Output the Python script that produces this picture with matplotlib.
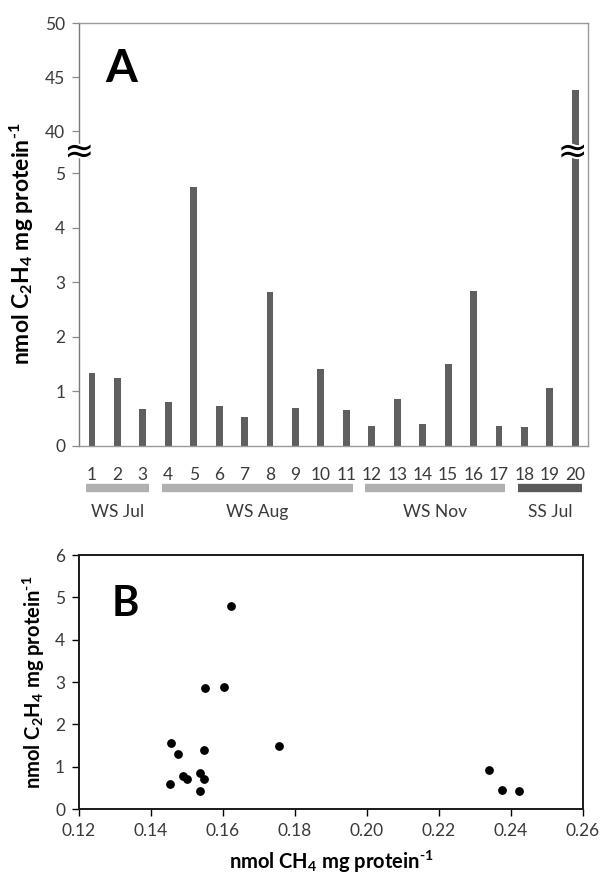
"""Nitrogenase activity per sample (A) and its relation to methane uptake (B)."""

import matplotlib

matplotlib.use("Agg")
import matplotlib.patheffects as pe
import matplotlib.pyplot as plt
import numpy as np

plt.rcParams["font.family"] = ["Lato", "DejaVu Sans"]
plt.rcParams["mathtext.default"] = "regular"

SAMPLES = [str(i) for i in range(1, 21)]
C2H4 = [1.33, 1.25, 0.67, 0.80, 4.75, 0.74, 0.54, 2.82, 0.70, 1.42,
        0.66, 0.37, 0.87, 0.41, 1.50, 2.84, 0.36, 0.35, 1.06, 43.8]

GROUP_NAMES = ["WS Jul", "WS Aug", "WS Nov", "SS Jul"]
GROUP_FIRST = [1, 4, 12, 18]
GROUP_LAST = [3, 11, 17, 20]
GROUP_COLORS = ["#b1b1b3", "#b1b1b3", "#b1b1b3", "#5a5a5a"]

CH4_X = [0.1622, 0.1602, 0.1551, 0.1456, 0.1475, 0.1547, 0.1756, 0.1490,
         0.1499, 0.1535, 0.1547, 0.1452, 0.1535, 0.2340, 0.2375, 0.2423]
C2H4_Y = [4.80, 2.89, 2.86, 1.56, 1.29, 1.39, 1.48, 0.78,
          0.71, 0.85, 0.71, 0.58, 0.42, 0.92, 0.45, 0.42]

TICKS_A = [0, 1, 2, 3, 4, 5, 40, 45, 50]
TICKS_B_X = [0.12, 0.14, 0.16, 0.18, 0.20, 0.22, 0.24, 0.26]
TICKS_B_Y = [0, 1, 2, 3, 4, 5, 6]

YLABEL = "nmol C$_2$H$_4$ mg protein$^{\u2010 1}$"
XLABEL_B = "nmol CH$_4$ mg protein$^{\u2010 1}$"

BAR_COLOR = "#5f5f5f"
TEXT_COLOR = "#3a3a3a"
TICK_SIZE = 12.5

# broken y axis for panel A: 0-5 linear, squeezed gap 5-40, 40-50 compressed
GAP = 0.769
UPPER = 0.1986


def forward(v):
    v = np.asarray(v, dtype=float)
    return np.where(v <= 5, v, np.where(v < 40, 5 + (v - 5) * GAP / 35, 5 + GAP + (v - 40) * UPPER))


def inverse(u):
    u = np.asarray(u, dtype=float)
    return np.where(u <= 5, u, np.where(u < 5 + GAP, 5 + (u - 5) * 35 / GAP, 40 + (u - 5 - GAP) / UPPER))


def draw_bars(ax):
    x = np.arange(len(SAMPLES))
    ax.bar(x, C2H4, width=0.27, color=BAR_COLOR, zorder=2)
    ax.set_yscale("function", functions=(forward, inverse))
    ax.set_ylim(0, 50)
    ax.set_xlim(-0.5, len(SAMPLES) - 0.5)
    ax.set_yticks(TICKS_A)
    ax.set_yticklabels([str(t) for t in TICKS_A])
    ax.set_xticks(x)
    ax.set_xticklabels(SAMPLES)
    ax.tick_params(axis="x", length=0, pad=15, labelsize=TICK_SIZE, labelcolor=TEXT_COLOR)
    ax.tick_params(axis="y", direction="out", length=5, width=0.9, color="#888888",
                   labelsize=TICK_SIZE, labelcolor=TEXT_COLOR, pad=5)
    ax.yaxis.set_minor_locator(matplotlib.ticker.NullLocator())
    for side in ax.spines.values():
        side.set_color("#9a9a9a")
        side.set_linewidth(1.0)
    ax.spines["left"].set_color("#7a7a7a")
    ax.set_ylabel(YLABEL, fontsize=16.5, fontweight="bold")
    ax.yaxis.set_label_coords(-0.085, 0.478)
    ax.text(0.051, 0.94, "A", transform=ax.transAxes, fontsize=33, fontweight="bold",
            va="top", ha="left")

    # break marks on the axis and on the tall bar
    mid = 22.5
    halo = [pe.withStroke(linewidth=3, foreground="white")]
    ax.text(-0.5, mid, "\u2248", fontsize=26, family="DejaVu Sans", ha="center", va="center",
            clip_on=False, path_effects=halo, zorder=5)
    ax.text(x[-1] - 0.1, mid, "\u2248", fontsize=26, family="DejaVu Sans", ha="center",
            va="center", path_effects=halo, zorder=5)

    # sampling campaign bars below the tick labels
    trans = ax.get_xaxis_transform()
    for name, first, last, color in zip(GROUP_NAMES, GROUP_FIRST, GROUP_LAST, GROUP_COLORS):
        x0 = first - 1 - 0.25
        x1 = last - 1 + 0.25
        ax.plot([x0, x1], [-0.099, -0.099], transform=trans, color=color, linewidth=6,
                solid_capstyle="butt", clip_on=False)
        ax.text((x0 + x1) / 2, -0.155, name, transform=trans, ha="center", va="center",
                fontsize=TICK_SIZE, color=TEXT_COLOR)


def draw_scatter(ax):
    ax.scatter(CH4_X, C2H4_Y, s=28, color="black", zorder=3)
    ax.set_xlim(0.12, 0.26)
    ax.set_ylim(0, 6)
    ax.set_xticks(TICKS_B_X)
    ax.set_xticklabels([f"{t:.2f}" for t in TICKS_B_X])
    ax.set_yticks(TICKS_B_Y)
    ax.tick_params(direction="out", length=5, width=1.0, labelsize=TICK_SIZE,
                   labelcolor=TEXT_COLOR, pad=5)
    for side in ax.spines.values():
        side.set_color("#1a1a1a")
        side.set_linewidth(1.4)
    ax.set_ylabel(YLABEL, fontsize=14.5, fontweight="bold", labelpad=6)
    ax.set_xlabel(XLABEL_B, fontsize=14.5, fontweight="bold", labelpad=7)
    ax.text(0.065, 0.88, "B", transform=ax.transAxes, fontsize=30, fontweight="bold",
            va="top", ha="left")


def main() -> None:
    fig = plt.figure(figsize=(6.02, 8.75), dpi=100)
    ax_a = fig.add_axes([0.1317, 0.4903, 0.845, 0.4834])
    ax_b = fig.add_axes([0.1312, 0.0754, 0.8372, 0.2903])
    draw_bars(ax_a)
    draw_scatter(ax_b)
    fig.savefig("out.png", dpi=100)
    plt.close(fig)


if __name__ == "__main__":
    main()
